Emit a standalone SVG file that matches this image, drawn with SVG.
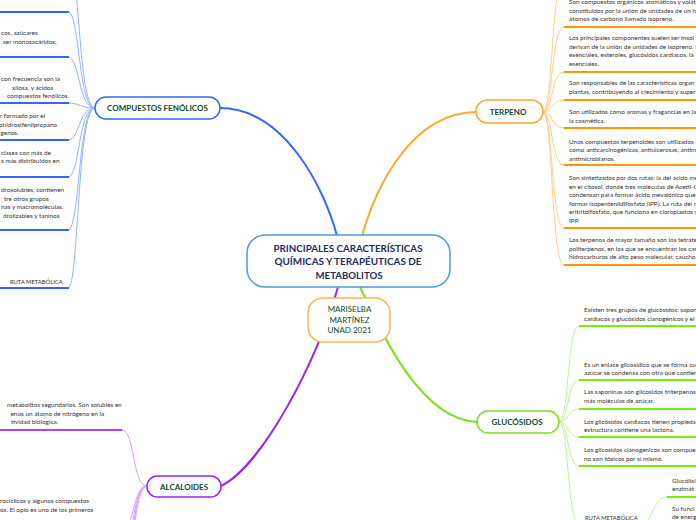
<svg xmlns="http://www.w3.org/2000/svg" width="696" height="520" viewBox="0 0 696 520">
<style>
.t{font-family:Lato,"Liberation Sans",sans-serif;font-size:6.4px;fill:#333}
.r{font-family:Lato,"Liberation Sans",sans-serif;font-size:5.8px;fill:#333}
.lbl{font-family:Lato,"Liberation Sans",sans-serif;font-size:8px;font-weight:bold;fill:#0f4a2a;text-anchor:middle}
.ctr{font-family:Lato,"Liberation Sans",sans-serif;font-size:10px;font-weight:bold;fill:#1d2d5c;text-anchor:middle}
.ms{font-family:Lato,"Liberation Sans",sans-serif;font-size:8px;fill:#0f4a2a;text-anchor:middle}
.c{fill:none;stroke-width:1}
.u{fill:none;stroke-width:2}
.bc{stroke:#93b2ff}.bu{stroke:#3366ff}
.oc{stroke:#ffcf8a}.ou{stroke:#ff9800}
.gc{stroke:#bff59a}.gu{stroke:#76ee00}
.pc{stroke:#d9a0ff}.pu{stroke:#b040ff}
</style>
<g id="connectors">
  <path d="M337,236 C325,190 285,108 220,108" fill="none" stroke="#3366ff" stroke-width="2"/>
  <path d="M362,236 C375,190 410,112 477,112" fill="none" stroke="#ffa726" stroke-width="2"/>
  <path d="M338,287 C318,360 262,466 221,486" fill="none" stroke="#a020f0" stroke-width="2"/>
  <path d="M360,287 C380,330 420,420 477,422" fill="none" stroke="#7ce01a" stroke-width="2"/>
  <g>
    <path class="c bc" d="M95,108 C78,108 80,-40 68,-40"/>
    <path class="c bc" d="M95,108 C78,108 80,12 68,12"/>
    <path class="c bc" d="M95,108 C78,108 80,57 68,57"/>
    <path class="c bc" d="M95,108 C80,108 80,103 68,103"/>
    <path class="c bc" d="M95,108 C78,108 80,140 68,140"/>
    <path class="c bc" d="M95,108 C78,108 80,177 68,177"/>
    <path class="c bc" d="M95,108 C78,108 80,230 68,230"/>
    <path class="c bc" d="M95,108 C77,108 79,288 68,288"/>
    <path class="u bu" d="M0,12 H69"/>
    <path class="u bu" d="M0,57 H69"/>
    <path class="u bu" d="M0,103 H69"/>
    <path class="u bu" d="M0,140 H69"/>
    <path class="u bu" d="M0,177 H69"/>
    <path class="u bu" d="M0,230 H69"/>
    <path class="u bu" d="M0,288 H69"/>
  </g>
  <g>
    <path class="c oc" d="M543,112 C553,112 551,-20 564,-20"/>
    <path class="c oc" d="M543,112 C553,112 551,27 564,27"/>
    <path class="c oc" d="M543,112 C553,112 551,72 564,72"/>
    <path class="c oc" d="M543,112 C553,112 551,100 564,100"/>
    <path class="c oc" d="M543,112 C553,112 551,128 564,128"/>
    <path class="c oc" d="M543,112 C553,112 551,165 564,165"/>
    <path class="c oc" d="M543,112 C553,112 551,228 564,228"/>
    <path class="c oc" d="M543,112 C553,112 551,265 564,265"/>
    <path class="u ou" d="M564,27 H696"/>
    <path class="u ou" d="M564,72 H696"/>
    <path class="u ou" d="M564,100 H696"/>
    <path class="u ou" d="M564,128 H696"/>
    <path class="u ou" d="M564,165 H696"/>
    <path class="u ou" d="M564,228 H696"/>
    <path class="u ou" d="M564,265 H696"/>
  </g>
  <g>
    <path class="c gc" d="M559,422 C569,422 567,326 579,326"/>
    <path class="c gc" d="M559,422 C569,422 567,380 579,380"/>
    <path class="c gc" d="M559,422 C569,422 567,409 579,409"/>
    <path class="c gc" d="M559,422 C569,422 567,437 579,437"/>
    <path class="c gc" d="M559,422 C569,422 567,466 579,466"/>
    <path class="c gc" d="M559,422 C569,422 567,524 579,524"/>
    <path class="u gu" d="M579,326 H696"/>
    <path class="u gu" d="M579,380 H696"/>
    <path class="u gu" d="M579,409 H696"/>
    <path class="u gu" d="M579,437 H696"/>
    <path class="u gu" d="M579,466 H696"/>
    <path class="u gu" d="M579,524 H640"/>
    <path class="c gc" d="M640,524 C654,524 652,497 667,497"/>
    <path class="c gc" d="M640,524 C654,524 652,530 667,530"/>
    <path class="u gu" d="M667,497 H696"/>
  </g>
  <g>
    <path class="c pc" d="M147,486 C132,486 135,430 122,430"/>
    <path class="c pc" d="M147,486 C132,486 136,528 122,528"/>
    <path class="c pc" d="M147,486 C132,486 135,545 122,545"/>
    <path class="c pc" d="M147,486 C132,486 134,565 122,565"/>
    <path class="c pc" d="M147,486 C132,486 133,590 122,590"/>
    <path class="u pu" d="M0,430 H122"/>
  </g>
</g>

<g id="central">
  <rect x="247" y="235" width="203" height="52" rx="18" fill="#fff" stroke="#4a9be0" stroke-width="1.5"/>
  <text class="ctr" x="348" y="251.5" textLength="149" lengthAdjust="spacingAndGlyphs">PRINCIPALES CARACTERÍSTICAS</text>
  <text class="ctr" x="348" y="265.3" textLength="147" lengthAdjust="spacingAndGlyphs">QUÍMICAS Y TERAPÉUTICAS DE</text>
  <text class="ctr" x="349" y="278.6" textLength="67" lengthAdjust="spacingAndGlyphs">METABOLITOS</text>
</g>

<g id="autor">
  <rect x="308" y="298" width="82" height="44" rx="15" fill="#fff" stroke="#ffb74d" stroke-width="1.5"/>
  <text class="ms" x="349.5" y="312">MARISELBA</text>
  <text class="ms" x="349.5" y="322.8">MARTÍNEZ</text>
  <text class="ms" x="349.5" y="333">UNAD 2021</text>
</g>

<g id="fenolicos">
  <rect x="95" y="97" width="125" height="22" rx="11" fill="#fff" stroke="#3366ff" stroke-width="1.5"/>
  <text class="lbl" x="157.5" y="111">COMPUESTOS FENÓLICOS</text>
  <text class="t" x="1" y="35">cos, azúcares</text>
  <text class="t" x="3" y="44">ser monosacáridos,</text>
  <text class="t" x="1" y="81">con frecuencia son la</text>
  <text class="t" x="12" y="89.5">xilosa, y ácidos</text>
  <text class="t" x="7" y="98">compuestos fenólicos.</text>
  <text class="t" x="0" y="118.2">r formado por el</text>
  <text class="t" x="-1" y="126.7">phidroxifenilpropano</text>
  <text class="t" x="0.5" y="135.2">genos.</text>
  <text class="t" x="1" y="154.5">clases con más de</text>
  <text class="t" x="1" y="163">s más distribuidos en</text>
  <text class="t" x="1" y="192">drosolubles, contienen</text>
  <text class="t" x="4" y="200.5">tre otros grupos</text>
  <text class="t" x="1" y="209">nas y macromoléculas.</text>
  <text class="t" x="3" y="217.5">drolizables y taninos</text>
  <text class="r" x="10" y="284">RUTA METABÓLICA</text>
</g>

<g id="terpeno">
  <rect x="476" y="100" width="67" height="23" rx="11.5" fill="#fff" stroke="#ffa726" stroke-width="1.5"/>
  <text class="lbl" x="508" y="115">TERPENO</text>
  <text class="t" x="569" y="4.3">Son compuestos orgánicos aromáticos y volát</text>
  <text class="t" x="569" y="12.8">constituidos por la unión de unidades de un hi</text>
  <text class="t" x="569" y="21.3">átomos de carbono llamado isopreno.</text>
  <text class="t" x="569" y="40">Los principales componentes suelen ser insol</text>
  <text class="t" x="569" y="48.5">derivan de la unión de unidades de isopreno. L</text>
  <text class="t" x="569" y="57">esenciales, esteroles, glucósidos cardiacos, lá</text>
  <text class="t" x="569" y="65.5">esenciales.</text>
  <text class="t" x="569" y="85">Son responsables de las características organ</text>
  <text class="t" x="569" y="93.5">plantas, contribuyendo al crecimiento y super</text>
  <text class="t" x="569" y="114">Son utilizados como aromas y fragancias en la</text>
  <text class="t" x="569" y="122.5">la cosmética.</text>
  <text class="t" x="569" y="143.5">Unos compuestos terpenoides son utilizados c</text>
  <text class="t" x="569" y="152">como anticarcinogénicas, antiulcerosas, antim</text>
  <text class="t" x="569" y="160.5">antimicrobianos.</text>
  <text class="t" x="569" y="180">Son sintetizados por dos rutas: la del ácido me</text>
  <text class="t" x="569" y="188.5">en el citosol, donde tres moléculas de Acetil-C</text>
  <text class="t" x="569" y="197">condensan para formar ácido mevalónico que</text>
  <text class="t" x="569" y="205.5">formar isopentenildifosfato (IPP). La ruta del m</text>
  <text class="t" x="569" y="214">eritritolfosfato, que funciona en cloroplastos y</text>
  <text class="t" x="569" y="222.5">IPP.</text>
  <text class="t" x="569" y="242">Los terpenos de mayor tamaño son los tetrate</text>
  <text class="t" x="569" y="250.5">politerpenos, en los que se encuentran los car</text>
  <text class="t" x="569" y="259">hidrocarburos de alto peso molecular, caucho</text>
</g>

<g id="glucosidos">
  <rect x="477" y="411" width="82" height="22" rx="11" fill="#fff" stroke="#7ce01a" stroke-width="1.5"/>
  <text class="lbl" x="517" y="425">GLUCÓSIDOS</text>
  <text class="t" x="584" y="312">Existen tres grupos de glucósidos: sapon</text>
  <text class="t" x="584" y="320.5">cardiacos y glucósidos cianogénicos y el</text>
  <text class="t" x="584" y="366.8">Es un enlace glicosídico que se forma cu</text>
  <text class="t" x="584" y="375.3">azúcar se condensa con otra que contien</text>
  <text class="t" x="584" y="394">Las saponinas son glicosidos triterpenos</text>
  <text class="t" x="584" y="402.5">más moléculas de azúcar.</text>
  <text class="t" x="584" y="423.5">Los glicósidos cardiacos tienen propieda</text>
  <text class="t" x="584" y="432">estructura contiene una lactona.</text>
  <text class="t" x="584" y="452">Los glicosidos cianogenicos son compue</text>
  <text class="t" x="584" y="460.5">no son tóxicos por sí mismo.</text>
  <text class="r" x="585" y="520">RUTA METABÓLICA</text>
  <text class="t" x="672" y="482.5">Glucólisi</text>
  <text class="t" x="672" y="491">enzimát</text>
  <text class="t" x="672" y="510.5">Su funci</text>
  <text class="t" x="672" y="518.5">de energ</text>
</g>

<g id="alcaloides">
  <rect x="147" y="476" width="74" height="21" rx="10.5" fill="#fff" stroke="#a020f0" stroke-width="1.5"/>
  <text class="lbl" x="184" y="489.5">ALCALOIDES</text>
  <text class="t" x="7" y="407">metabolitos segundarios. Son solubles en</text>
  <text class="t" x="10.5" y="415.5">enos un átomo de nitrógeno en la</text>
  <text class="t" x="11" y="424">tividad biologica.</text>
  <text class="t" x="0" y="503">rocíclicos y algunos compuestos</text>
  <text class="t" x="0" y="511.5">os. El opio es uno de los primeros</text>
</g>
</svg>
